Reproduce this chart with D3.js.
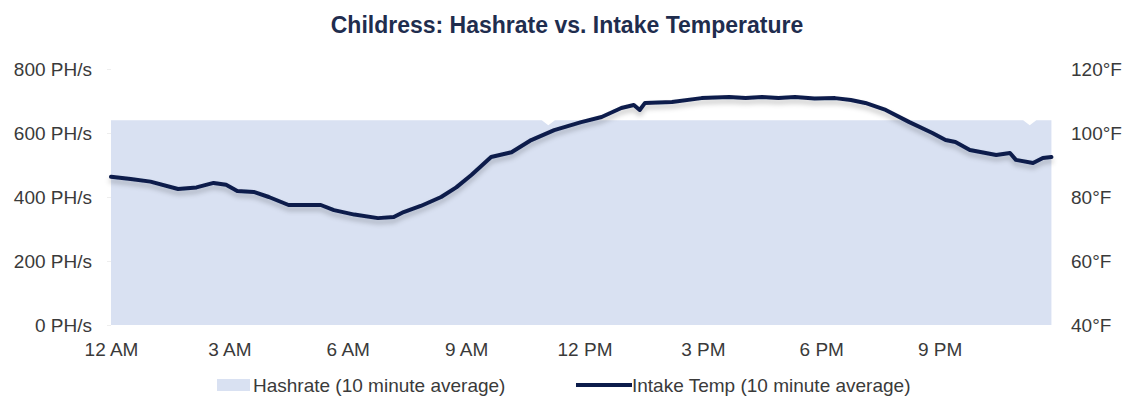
<!DOCTYPE html>
<html>
<head>
<meta charset="utf-8">
<script src="https://cdn.jsdelivr.net/npm/d3@7"></script>
<style>
  body { margin: 0; background: #fff; }
  svg { font-family: "Liberation Sans", Arial, sans-serif; }
</style>
</head>
<body>
<svg id="chart" width="1125" height="403"></svg>
<script>
// minutes after midnight
const tempTimes = [0, 30, 60, 102, 130, 156, 175, 192, 217, 240, 270, 319, 339, 370, 406, 430, 445,
  471, 502, 525, 548, 578, 609, 639, 674, 715, 746, 776, 795, 804, 812, 853, 898, 940, 965, 990,
  1015, 1040, 1070, 1101, 1125, 1147, 1178, 1214, 1249, 1269, 1284, 1306, 1346, 1367, 1376, 1402,
  1417, 1430];
const tempValues = [86.3, 85.6, 84.8, 82.5, 83.0, 84.4, 83.8, 81.9, 81.6, 80.0, 77.5, 77.5, 75.9,
  74.5, 73.4, 73.75, 75.3, 77.2, 80.0, 83.0, 86.9, 92.5, 94.0, 97.8, 100.9, 103.4, 105.0, 107.8,
  108.75, 107.2, 109.4, 109.7, 110.9, 111.25, 110.9, 111.25, 110.9, 111.25, 110.8, 110.9, 110.3,
  109.4, 107.2, 103.4, 100.0, 97.8, 97.2, 94.7, 93.1, 93.75, 91.6, 90.6, 92.2, 92.5];

const hashTimes = [0, 655, 665, 675, 1387, 1397, 1407, 1430];
const hashValues = [640, 640, 624, 640, 640, 624, 640, 640];

const hourTicks = [0, 180, 360, 540, 720, 900, 1080, 1260];
const hourLabels = ["12 AM", "3 AM", "6 AM", "9 AM", "12 PM", "3 PM", "6 PM", "9 PM"];
const hashTicks = [0, 200, 400, 600, 800];
const tempTicks = [40, 60, 80, 100, 120];

const svg = d3.select("#chart");
const plotLeft = 111, plotRight = 1058, plotTop = 69, plotBottom = 325;

const x = d3.scaleLinear().domain([0, 1440]).range([plotLeft, plotRight]);
const yHash = d3.scaleLinear().domain([0, 800]).range([plotBottom, plotTop]);
const yTemp = d3.scaleLinear().domain([40, 120]).range([plotBottom, plotTop]);

const hashData = hashTimes.map((t, i) => ({ t, v: hashValues[i] }));
const tempData = tempTimes.map((t, i) => ({ t, v: tempValues[i] }));

// title
svg.append("text")
  .attr("x", 567)
  .attr("y", 33)
  .attr("text-anchor", "middle")
  .attr("font-size", 23)
  .attr("font-weight", "bold")
  .attr("fill", "#1f2d4e")
  .text("Childress: Hashrate vs. Intake Temperature");

// hashrate area
const area = d3.area()
  .x(d => x(d.t))
  .y0(yHash(0))
  .y1(d => yHash(d.v));

svg.append("path")
  .datum(hashData)
  .attr("d", area)
  .attr("fill", "#d9e1f2");

// left axis
const leftAxis = svg.append("g")
  .attr("transform", `translate(${plotLeft},0)`)
  .call(d3.axisLeft(yHash).tickValues(hashTicks).tickFormat(d => d + " PH/s").tickSize(4).tickPadding(15));
leftAxis.select(".domain").remove();
leftAxis.selectAll(".tick line").attr("stroke", "#eeeeee");

// right axis
const rightAxis = svg.append("g")
  .attr("transform", `translate(1055,0)`)
  .call(d3.axisRight(yTemp).tickValues(tempTicks).tickFormat(d => d + "°F").tickSize(0).tickPadding(16));
rightAxis.select(".domain").remove();

// bottom axis
const bottomAxis = svg.append("g")
  .attr("transform", `translate(0,${plotBottom})`)
  .call(d3.axisBottom(x).tickValues(hourTicks).tickFormat((d, i) => hourLabels[i]).tickSize(0).tickPadding(18));
bottomAxis.select(".domain").remove();

svg.selectAll(".tick text")
  .attr("font-size", 19)
  .attr("font-family", "'Liberation Sans', Arial, sans-serif")
  .attr("fill", "#3a3a3a");

// shadow for the temperature line
const defs = svg.append("defs");
const filter = defs.append("filter").attr("id", "shadow")
  .attr("x", "-5%").attr("y", "-20%").attr("width", "110%").attr("height", "150%");
filter.append("feDropShadow")
  .attr("dx", 0).attr("dy", 4).attr("stdDeviation", 2.5)
  .attr("flood-color", "#000").attr("flood-opacity", 0.22);

const line = d3.line()
  .x(d => x(d.t))
  .y(d => yTemp(d.v))
  .curve(d3.curveLinear);

svg.append("path")
  .datum(tempData)
  .attr("d", line)
  .attr("fill", "none")
  .attr("stroke", "#0c1c4b")
  .attr("stroke-width", 4)
  .attr("stroke-linejoin", "round")
  .attr("stroke-linecap", "round")
  .attr("filter", "url(#shadow)");

// legend
const legend = svg.append("g").attr("font-size", 19).attr("fill", "#3a3a3a");
legend.append("rect")
  .attr("x", 217).attr("y", 379).attr("width", 33).attr("height", 12)
  .attr("fill", "#d9e1f2");
legend.append("text")
  .attr("x", 253).attr("y", 392)
  .text("Hashrate (10 minute average)");
legend.append("line")
  .attr("x1", 576).attr("x2", 632).attr("y1", 385).attr("y2", 385)
  .attr("stroke", "#0c1c4b").attr("stroke-width", 4);
legend.append("text")
  .attr("x", 632).attr("y", 392)
  .text("Intake Temp (10 minute average)");
</script>
</body>
</html>
